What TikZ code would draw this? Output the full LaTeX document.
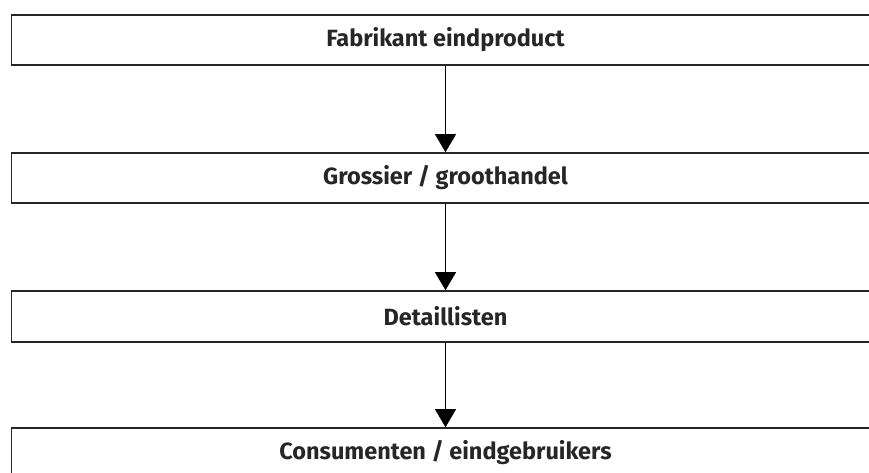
\documentclass[tikz,border=0pt]{standalone}
\usepackage{fontspec}
\setmainfont{Fira Sans}
\usetikzlibrary{arrows.meta}
\begin{document}
\begin{tikzpicture}[x=1pt,y=1pt,
  lbl/.style={font=\fontsize{23.5}{28}\selectfont\bfseries, text=black!85},
  stage/.style={draw=black!85, line width=1.6pt, minimum width=868pt, minimum height=50pt, inner sep=0pt, lbl},
  flow/.style={draw=black, line width=0.9pt, -{Triangle[length=18pt,width=21pt]}}]
\useasboundingbox (0,0) rectangle (869,472);
\node[stage] (a) at (445.5,432) {Fabrikant eindproduct};
\node[stage] (b) at (445.5,294) {Grossier / groothandel};
\node[stage, minimum height=51pt] (c) at (445.5,155.5) {Detaillisten};
\node[stage] (d) at (445.5,19) {};
\node[lbl] (dt) at (445.5,19) {Consumenten / eindgebruikers};
\draw[flow] (a.south) -- (b.north);
\draw[flow] (b.south) -- (c.north);
\draw[flow] (c.south) -- (d.north);
\end{tikzpicture}
\end{document}
